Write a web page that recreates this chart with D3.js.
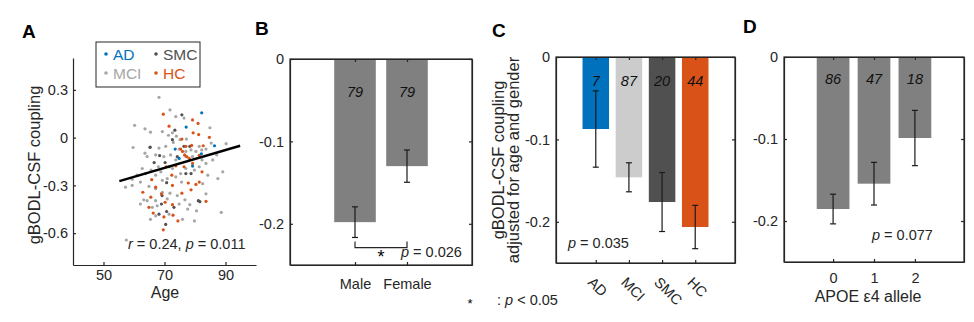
<!DOCTYPE html>
<html>
<head>
<meta charset="utf-8">
<script src="https://cdn.jsdelivr.net/npm/d3@7"></script>
<style>
	body { margin: 0; background: #fff; }
	svg { display: block; font-family: "Liberation Sans", Arial, sans-serif; }
</style>
</head>
<body>
<svg id="chart" width="974" height="322"></svg>
<script>
// ---- panel A: scatter, coupling vs age, by group ----
const adAge = [82.2, 77.1, 73.5, 74.8, 82.1, 86.4, 79.2];
const adCoupling = [0.156, 0.066, -0.072, -0.131, -0.102, -0.051, -0.179];

const mciAge = [68.2, 71.8, 73.7, 76.4, 60.2, 63.6, 65.4, 69.3, 71.3, 72.6, 73.9, 75.1, 77.2, 72.9, 70.4, 68.2, 65.2, 59.7,
	64.3, 67.1, 69.8, 72.0, 74.8, 77.0, 78.7, 80.3, 82.2, 83.6, 85.3, 90.2, 87.1, 89.1, 83.6, 85.8, 82.3, 81.4, 79.8, 75.3,
	73.7, 70.9, 69.3, 67.1, 63.8, 61.0, 59.4, 57.2, 59.4, 62.1, 64.9, 67.1, 69.3, 71.8, 74.2, 76.7, 74.8, 67.1, 64.3, 63.2,
	62.1, 66.0, 67.6, 70.9, 77.6, 78.3, 83.6, 87.5, 88.6, 57.5, 65.4, 67.1, 71.5, 75.9, 79.8, 80.5, 77.0, 73.7, 79.2, 72.6,
	77.0, 84.2, 82.5, 75.6, 65.6, 62.7, 68.0, 68.8, 81.4, 84.9, 63.6];
const mciCoupling = [0.253, 0.174, 0.132, 0.123, 0.077, 0.055, 0.034, 0.038, 0.015, 0.030, 0.009, -0.013, -0.009, -0.030, -0.055, -0.066, -0.062, -0.062,
	-0.119, -0.109, -0.119, -0.109, -0.072, -0.087, -0.077, -0.087, -0.077, -0.072, -0.034, -0.038, -0.109, -0.215, -0.162, -0.140, -0.140, -0.183, -0.204, -0.226,
	-0.247, -0.257, -0.268, -0.236, -0.226, -0.236, -0.262, -0.311, -0.300, -0.279, -0.306, -0.321, -0.343, -0.349, -0.364, -0.391, -0.417, -0.396, -0.396, -0.391,
	-0.417, -0.438, -0.428, -0.385, -0.449, -0.421, -0.353, -0.257, -0.470, -0.643, -0.513, -0.491, -0.481, -0.513, -0.523, -0.460, -0.119, -0.140, -0.119, -0.194,
	-0.194, -0.236, -0.289, -0.279, -0.204, -0.194, -0.183, -0.215, -0.055, 0.062, -0.098];

const smcAge = [75.7, 73.4, 72.6, 76.4, 78.3, 68.4, 74.2, 66.6, 70.2, 71.5, 77.0, 70.7, 81.1, 69.0, 70.7, 68.2, 73.1, 81.6,
	70.4, 78.7, 65.3, 69.2];
const smcCoupling = [0.143, 0.047, -0.013, -0.055, -0.055, -0.113, -0.119, -0.157, -0.157, -0.183, -0.226, -0.283, -0.396, -0.417, -0.464, -0.481, -0.438, -0.402,
	-0.545, -0.226, -0.060, -0.364];

const hcAge = [69.6, 71.5, 79.2, 81.0, 79.4, 81.2, 84.7, 75.7, 82.7, 77.0, 78.9, 75.9, 76.6, 77.3, 78.1, 81.4, 70.6, 73.7,
	76.4, 79.2, 82.3, 72.4, 81.4, 77.8, 80.3, 65.8, 67.1, 62.9, 72.6, 75.7, 78.7, 69.0, 70.2, 65.5, 72.6, 83.6, 64.9, 66.3,
	69.8, 72.8, 74.4, 69.6, 75.3];
const hcCoupling = [0.147, 0.072, 0.111, 0.089, 0.030, 0.019, 0.002, -0.009, -0.051, -0.055, -0.049, -0.087, -0.109, -0.119, -0.130, -0.111, -0.183, -0.177,
	-0.183, -0.162, -0.215, -0.236, -0.279, -0.285, -0.294, -0.264, -0.311, -0.343, -0.300, -0.349, -0.328, -0.353, -0.406, -0.374, -0.421, -0.400, -0.438, -0.474,
	-0.498, -0.487, -0.523, -0.579, -0.072];

const fitAge = [55.2, 94.8];
const fitCoupling = [-0.273, -0.051];

const ageTicks = [50, 70, 90];
const couplingTicks = [0.3, 0, -0.3, -0.6];

// ---- panel B: sex ----
const sexLabels = ["Male", "Female"];
const sexMean = [-0.198, -0.130];
const sexSem = [0.0186, 0.0196];
const sexCount = [79, 79];

// ---- panel C: diagnosis ----
const dxLabels = ["AD", "MCI", "SMC", "HC"];
const dxMean = [-0.0874, -0.146, -0.176, -0.2063];
const dxSem = [0.0463, 0.0176, 0.0358, 0.0263];
const dxCount = [7, 87, 20, 44];

// ---- panel D: APOE e4 ----
const apoeLabels = ["0", "1", "2"];
const apoeMean = [-0.1854, -0.1545, -0.0988];
const apoeSem = [0.0181, 0.026, 0.0337];
const apoeCount = [86, 47, 18];

const barTicks = [0, -0.1, -0.2];

const ink = "#262626";
const blue = "#0072BD";
const orange = "#D95319";
const dotGrey = "#A6A6A6";
const darkGrey = "#505050";
const lightGrey = "#CCCCCC";
const midGrey = "#808080";

const tickFont = 14.5;
const labelFont = 16;

const svg = d3.select("#chart");

function styleAxis(sel, size) {
	sel.attr("font-family", null).attr("font-size", size);
	sel.select(".domain").attr("stroke", ink).attr("stroke-width", 1.2);
	sel.selectAll(".tick line").attr("stroke", ink).attr("stroke-width", 1.2);
	sel.selectAll(".tick text").attr("fill", ink);
}

function panelLetter(text, x, y) {
	svg.append("text")
		.attr("x", x)
		.attr("y", y)
		.attr("font-size", 19)
		.attr("font-weight", "bold")
		.attr("fill", "#000")
		.text(text);
}

function pText(x, y, parts, anchor) {
	let t = svg.append("text")
		.attr("x", x)
		.attr("y", y)
		.attr("font-size", tickFont)
		.attr("fill", ink)
		.attr("text-anchor", anchor || "start");
	for (let [s, italic] of parts)
		t.append("tspan").attr("font-style", italic ? "italic" : null).text(s);
}

// ================= A =================
{
	const x = d3.scaleLinear().domain([40, 100]).range([73, 256]);
	const y = d3.scaleLinear().domain([-0.8, 0.5]).range([265, 58]);

	svg.append("g")
		.attr("transform", "translate(0,265)")
		.call(d3.axisBottom(x).tickValues(ageTicks).tickSize(-3).tickSizeOuter(0).tickPadding(5))
		.call(styleAxis, tickFont);
	svg.append("g")
		.attr("transform", "translate(73,0)")
		.call(d3.axisLeft(y).tickValues(couplingTicks).tickSize(-3).tickSizeOuter(0).tickPadding(5).tickFormat(d => String(d)))
		.call(styleAxis, tickFont);

	const groups = [
		{ name: "MCI", age: mciAge, coupling: mciCoupling, color: dotGrey },
		{ name: "SMC", age: smcAge, coupling: smcCoupling, color: darkGrey },
		{ name: "HC", age: hcAge, coupling: hcCoupling, color: orange },
		{ name: "AD", age: adAge, coupling: adCoupling, color: blue },
	];

	for (let grp of groups) {
		svg.append("g")
			.selectAll("circle")
			.data(grp.age)
			.enter()
			.append("circle")
				.attr("cx", d => x(d))
				.attr("cy", (d, i) => y(grp.coupling[i]))
				.attr("r", 1.6)
				.attr("fill", grp.color);
	}

	svg.append("line")
		.attr("x1", x(fitAge[0]))
		.attr("y1", y(fitCoupling[0]))
		.attr("x2", x(fitAge[1]))
		.attr("y2", y(fitCoupling[1]))
		.attr("stroke", "#000")
		.attr("stroke-width", 2.4);

	// legend, two columns: AD/MCI then SMC/HC
	const legendOrder = ["AD", "MCI", "SMC", "HC"];
	svg.append("rect")
		.attr("x", 96).attr("y", 42)
		.attr("width", 104).attr("height", 45)
		.attr("fill", "#fff")
		.attr("stroke", ink)
		.attr("stroke-width", 1);
	let legend = svg.append("g")
		.selectAll("g")
		.data(legendOrder)
		.enter()
		.append("g")
			.attr("transform", (d, i) => `translate(${106 + Math.floor(i / 2) * 50}, ${54 + (i % 2) * 19})`);
	legend.append("circle")
		.attr("r", 1.8)
		.attr("fill", d => groups.find(g => g.name == d).color);
	legend.append("text")
		.attr("x", 7)
		.attr("y", 5.5)
		.attr("font-size", 15.5)
		.attr("fill", d => groups.find(g => g.name == d).color)
		.text(d => d);

	svg.append("text")
		.attr("transform", "translate(40,165) rotate(-90)")
		.attr("text-anchor", "middle")
		.attr("font-size", 16.5)
		.attr("fill", ink)
		.text("gBODL-CSF coupling");
	svg.append("text")
		.attr("x", 165)
		.attr("y", 298)
		.attr("text-anchor", "middle")
		.attr("font-size", labelFont)
		.attr("fill", ink)
		.text("Age");

	pText(128, 249, [["r", true], [" = 0.24, ", false], ["p", true], [" = 0.011", false]]);
	panelLetter("A", 22, 38);
}

// ================= bar panels =================
function barPanel(p) {
	const x = d3.scaleLinear().domain(p.xDomain).range([p.left, p.right]);
	const y = d3.scaleLinear().domain([-0.25, 0]).range([p.bottom, p.top]);
	const pos = p.labels.map((d, i) => i + p.first);
	const w = (x(1) - x(0)) * 0.8;

	let g = svg.append("g");

	g.selectAll("rect.bar")
		.data(p.mean)
		.enter()
		.append("rect")
			.attr("class", "bar")
			.attr("x", (d, i) => x(pos[i]) - w / 2)
			.attr("y", y(0))
			.attr("width", w)
			.attr("height", d => y(d) - y(0))
			.attr("fill", (d, i) => p.colors[i % p.colors.length]);

	let err = g.selectAll("g.err")
		.data(p.mean)
		.enter()
		.append("g")
			.attr("class", "err")
			.attr("stroke", "#1a1a1a")
			.attr("stroke-width", 1.2);
	err.append("line")
		.attr("x1", (d, i) => x(pos[i]))
		.attr("x2", (d, i) => x(pos[i]))
		.attr("y1", (d, i) => y(d + p.sem[i]))
		.attr("y2", (d, i) => y(d - p.sem[i]));
	for (let sign of [1, -1]) {
		err.append("line")
			.attr("x1", (d, i) => x(pos[i]) - 3)
			.attr("x2", (d, i) => x(pos[i]) + 3)
			.attr("y1", (d, i) => y(d + sign * p.sem[i]))
			.attr("y2", (d, i) => y(d + sign * p.sem[i]));
	}

	g.selectAll("text.n")
		.data(p.count)
		.enter()
		.append("text")
			.attr("class", "n")
			.attr("x", (d, i) => x(pos[i]))
			.attr("y", p.countY)
			.attr("text-anchor", "middle")
			.attr("font-size", tickFont)
			.attr("font-style", "italic")
			.attr("fill", "#111")
			.text(d => d);

	// box: left axis with labels, ticks inward on every side
	g.append("g")
		.attr("transform", `translate(${p.left},0)`)
		.call(d3.axisLeft(y).tickValues(barTicks).tickSize(-3).tickSizeOuter(0).tickPadding(6).tickFormat(d => String(d)))
		.call(styleAxis, tickFont);
	g.append("g")
		.attr("transform", `translate(${p.right},0)`)
		.call(d3.axisRight(y).tickValues(barTicks).tickSize(-3).tickSizeOuter(0).tickFormat(""))
		.call(styleAxis, tickFont);
	g.append("g")
		.attr("transform", `translate(0,${p.top})`)
		.call(d3.axisTop(x).tickValues(pos).tickSize(-3).tickSizeOuter(0).tickFormat(""))
		.call(styleAxis, tickFont);
	let bottom = g.append("g")
		.attr("transform", `translate(0,${p.bottom})`)
		.call(d3.axisBottom(x).tickValues(pos).tickSize(-3).tickSizeOuter(0).tickPadding(p.labelPad).tickFormat((d, i) => p.labels[i]))
		.call(styleAxis, tickFont);
	if (p.rotate) {
		bottom.selectAll(".tick text")
			.attr("y", 0)
			.attr("dy", "0.71em")
			.attr("text-anchor", "start")
			.attr("transform", "translate(-2,13) rotate(45)");
	}
	g.append("rect")
		.attr("x", p.left)
		.attr("y", p.top)
		.attr("width", p.right - p.left)
		.attr("height", p.bottom - p.top)
		.attr("fill", "none")
		.attr("stroke", ink)
		.attr("stroke-width", 1.2);

	return { x, y };
}

// B
{
	let s = barPanel({
		left: 290, right: 472, top: 59, bottom: 265,
		xDomain: [-0.25, 3.25], first: 1,
		labels: sexLabels, mean: sexMean, sem: sexSem, count: sexCount,
		colors: [midGrey], countY: 97, labelPad: 14,
	});
	// significance bracket between the two groups
	const bracket = [-0.2215, -0.229];
	svg.append("path")
		.attr("d", `M${s.x(1)},${s.y(bracket[0])}V${s.y(bracket[1])}H${s.x(2)}V${s.y(bracket[0])}`)
		.attr("fill", "none")
		.attr("stroke", ink)
		.attr("stroke-width", 1.2);
	svg.append("text")
		.attr("x", (s.x(1) + s.x(2)) / 2)
		.attr("y", 263)
		.attr("text-anchor", "middle")
		.attr("font-size", 18)
		.attr("fill", "#000")
		.text("*");
	pText(401, 257, [["p", true], [" = 0.026", false]]);
	panelLetter("B", 255, 35);
}

// C
{
	barPanel({
		left: 556, right: 735, top: 57, bottom: 263,
		xDomain: [-0.2, 5.2], first: 1,
		labels: dxLabels, mean: dxMean, sem: dxSem, count: dxCount,
		colors: [blue, lightGrey, darkGrey, orange], countY: 86, labelPad: 6, rotate: true,
	});
	svg.append("text")
		.attr("transform", "translate(504,160) rotate(-90)")
		.attr("text-anchor", "middle")
		.attr("font-size", 16.5)
		.attr("fill", ink)
		.text("gBODL-CSF coupling");
	svg.append("text")
		.attr("transform", "translate(519,160) rotate(-90)")
		.attr("text-anchor", "middle")
		.attr("font-size", 16.5)
		.attr("fill", ink)
		.text("adjusted for age and gender");
	pText(568, 248, [["p", true], [" = 0.035", false]]);
	panelLetter("C", 492, 37);

	// footnote for the asterisk
	svg.append("text")
		.attr("x", 470)
		.attr("y", 308)
		.attr("text-anchor", "middle")
		.attr("font-size", 13)
		.attr("fill", "#000")
		.text("*");
	pText(497, 305, [[": ", false], ["p", true], [" < 0.05", false]]);
}

// D
{
	barPanel({
		left: 784, right: 964, top: 57, bottom: 262,
		xDomain: [-1.2, 3.2], first: 0,
		labels: apoeLabels, mean: apoeMean, sem: apoeSem, count: apoeCount,
		colors: [midGrey], countY: 84, labelPad: 11,
	});
	svg.append("text")
		.attr("x", 868)
		.attr("y", 302)
		.attr("text-anchor", "middle")
		.attr("font-size", labelFont)
		.attr("fill", ink)
		.text("APOE ε4 allele");
	pText(872, 240, [["p", true], [" = 0.077", false]]);
	panelLetter("D", 743, 33);
}
</script>
</body>
</html>
